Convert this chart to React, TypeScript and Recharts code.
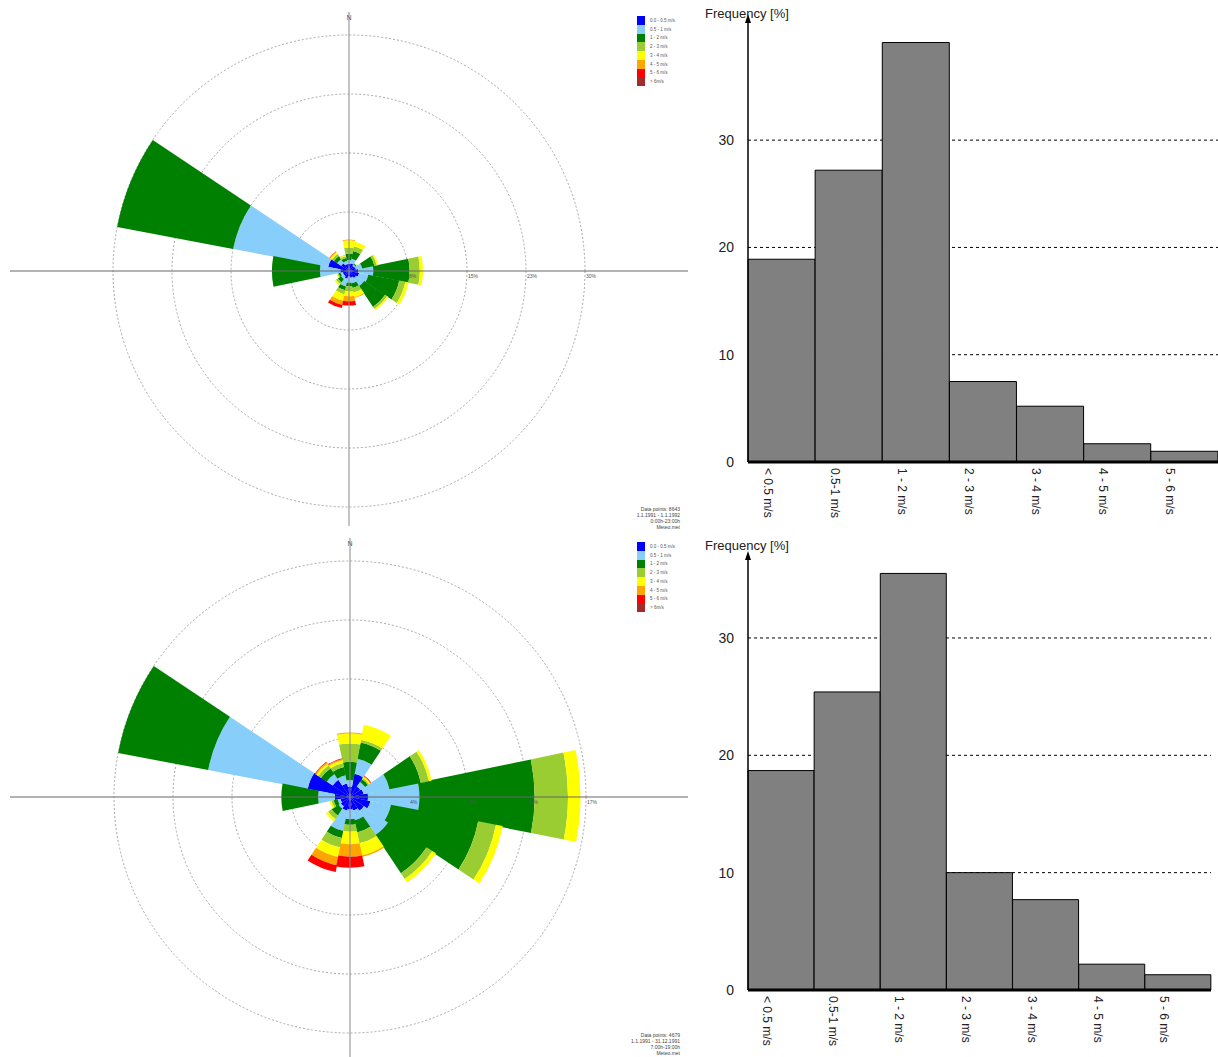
import React from "react";
import {
  Bar,
  BarChart,
  CartesianGrid,
  PolarAngleAxis,
  PolarGrid,
  PolarRadiusAxis,
  RadialBar,
  RadialBarChart,
  XAxis,
  YAxis,
} from "recharts";

const FONT = '"Liberation Sans", Arial, sans-serif';

const directions = ["N", "NNE", "NE", "ENE", "E", "ESE", "SE", "SSE", "S", "SSW", "SW", "WSW", "W", "WNW", "NW", "NNW"];

const speedClasses = ["0.0 - 0.5 m/s", "0.5 - 1 m/s", "1 - 2 m/s", "2 - 3 m/s", "3 - 4 m/s", "4 - 5 m/s", "5 - 6 m/s", "> 6m/s"];
const speedColors = ["#0000ff", "#87cefa", "#008000", "#9acd32", "#ffff00", "#ffa500", "#ff0000", "#a52a2a"];

// whole year, 0-23h : % per direction (N clockwise) for each speed class
const allHours_lt05 = [0.9, 1.0, 0.8, 0.9, 1.2, 1.3, 1.1, 0.9, 0.7, 1.0, 0.8, 0.8, 1.1, 2.7, 1.2, 0.9];
const allHours_05_1 = [0.5, 0.6, 0.2, 0.8, 1.9, 1.2, 1.2, 0.7, 0.8, 1.0, 0.4, 0.3, 2.6, 12.3, 0.6, 0.4];
const allHours_1_2 = [0.8, 1.0, 0.15, 1.6, 4.6, 4.0, 3.2, 0.6, 0.45, 0.5, 0.5, 0.25, 6.1, 15.0, 0.5, 0.4];
const allHours_2_3 = [0.8, 0.6, 0.05, 0.3, 1.3, 0.8, 0.3, 0.6, 0.65, 0.5, 0.3, 0.15, 0, 0, 0.3, 0.2];
const allHours_3_4 = [0.9, 0.6, 0.05, 0.2, 0.4, 0.4, 0.2, 0.6, 0.6, 0.85, 0.2, 0.1, 0, 0, 0.25, 0.15];
const allHours_4_5 = [0.1, 0, 0, 0, 0, 0, 0, 0.1, 0.65, 0.55, 0, 0, 0, 0, 0.1, 0.05];
const allHours_5_6 = [0, 0, 0, 0, 0, 0, 0, 0, 0.55, 0.4, 0, 0, 0, 0, 0.05, 0];
const allHours_gt6 = [0, 0, 0, 0, 0, 0, 0, 0, 0, 0, 0, 0, 0, 0, 0, 0];

// daytime, 7-19h
const dayHours_lt05 = [0.75, 1.7, 0.9, 1.0, 1.3, 1.5, 1.2, 1.0, 0.9, 1.0, 0.8, 0.7, 1.1, 3.1, 1.5, 1.0];
const dayHours_05_1 = [0.47, 1.1, 0.4, 1.9, 3.7, 1.5, 2.1, 0.7, 0.7, 1.5, 0.2, 0.2, 1.2, 7.3, 0.5, 0.6];
const dayHours_1_2 = [1.32, 1.2, 0.25, 2.3, 8.3, 6.4, 3.3, 0.9, 0.4, 0.5, 0.6, 0.3, 2.65, 6.6, 0.5, 0.6];
const dayHours_2_3 = [1.32, 0.2, 0.1, 0.6, 2.4, 1.3, 0.5, 0.8, 0.5, 0.7, 0.3, 0.15, 0, 0, 0.25, 0.3];
const dayHours_3_4 = [0.72, 1.1, 0.1, 0.2, 0.9, 0.5, 0.3, 0.9, 0.9, 0.7, 0.2, 0.15, 0, 0, 0.15, 0.2];
const dayHours_4_5 = [0.07, 0, 0.05, 0, 0, 0, 0, 0.1, 0.9, 0.6, 0, 0, 0, 0, 0.1, 0.1];
const dayHours_5_6 = [0, 0, 0.05, 0, 0, 0, 0, 0, 0.8, 0.5, 0, 0, 0, 0, 0.05, 0.05];
const dayHours_gt6 = [0, 0, 0, 0, 0, 0, 0, 0, 0, 0, 0, 0, 0, 0, 0, 0];

const allHoursRings = [7.5, 15, 22.5, 30];
const allHoursRingLabels = ["8%", "15%", "23%", "30%"];
const dayHoursRings = [4.25, 8.5, 12.75, 17];
const dayHoursRingLabels = ["4%", "8%", "13%", "17%"];

const allHoursInfo = ["Data points: 8643", "1.1.1991 - 1.1.1992", "0:00h-23:00h", "Meteo.met"];
const dayHoursInfo = ["Data points: 4679", "1.1.1991 - 31.12.1991", "7:00h-19:00h", "Meteo.met"];

// histograms
const speedBins = ["< 0.5 m/s", "0.5-1 m/s", "1 - 2 m/s", "2 - 3 m/s", "3 - 4 m/s", "4 - 5 m/s", "5 - 6 m/s"];
const allHoursFreq = [18.9, 27.2, 39.1, 7.5, 5.2, 1.7, 1.0];
const dayHoursFreq = [18.7, 25.4, 35.5, 10.0, 7.7, 2.2, 1.3];
const freqTicks = [0, 10, 20, 30];

type RoseProps = {
  classes: number[][];
  rings: number[];
  ringLabels: string[];
  info: string[];
  top: number;
  height: number;
  cx: number;
  cy: number;
};

function WindRose({ classes, rings, ringLabels, info, top, height, cx, cy }: RoseProps) {
  const data = directions.map((dir, i) => {
    const row: Record<string, string | number> = { dir };
    classes.forEach((vals, k) => {
      row["c" + k] = vals[i];
    });
    return row;
  });
  const max = rings[rings.length - 1];

  return (
    <div style={{ position: "absolute", left: 0, top, width: 690, height }}>
      {/* N sector spans 78.75..101.25 deg, directions run clockwise */}
      <RadialBarChart
        width={690}
        height={height}
        data={data}
        layout="centric"
        cx={cx}
        cy={cy}
        innerRadius={0}
        outerRadius={236}
        startAngle={78.75}
        endAngle={-281.25}
        barCategoryGap={0}
        barGap={0}
        margin={{ top: 0, right: 0, bottom: 0, left: 0 }}
      >
        <PolarGrid gridType="circle" radialLines={false} stroke="#a8a8a8" strokeDasharray="2 2" />
        <PolarAngleAxis type="category" dataKey="dir" tick={false} axisLine={false} tickLine={false} />
        {classes.map((_, k) => (
          <RadialBar
            key={speedClasses[k]}
            dataKey={"c" + k}
            stackId="rose"
            fill={speedColors[k]}
            isAnimationActive={false}
          />
        ))}
        <PolarRadiusAxis
          type="number"
          angle={0}
          domain={[0, max]}
          ticks={rings}
          axisLine={false}
          tickLine={false}
          tick={(p: any) => (
            <text x={p.x + 1} y={p.y + 7} fontSize={5} fill="#555" fontFamily={FONT}>
              {ringLabels[rings.indexOf(p.payload.value)]}
            </text>
          )}
        />
      </RadialBarChart>

      <svg
        width={690}
        height={height}
        style={{ position: "absolute", left: 0, top: 0, pointerEvents: "none", overflow: "visible" }}
      >
        <line x1={10} x2={688} y1={cy} y2={cy} stroke="#666" strokeWidth={1} />
        <line x1={cx} x2={cx} y1={12} y2={height} stroke="#888" strokeWidth={1} />
        <text x={cx} y={20} fontSize={7} fill="#556" textAnchor="middle" fontFamily={FONT}>
          N
        </text>
        {info.map((t, i) => (
          <text key={t} x={680} y={511 + i * 6} fontSize={5} fill="#444" textAnchor="end" fontFamily={FONT}>
            {t}
          </text>
        ))}
      </svg>

      <div style={{ position: "absolute", left: 637, top: 16, fontFamily: FONT }}>
        {speedClasses.map((s, k) => (
          <div key={s} style={{ display: "flex", alignItems: "center", height: 8.75 }}>
            <div style={{ width: 8, height: 8.75, background: speedColors[k] }} />
            <span style={{ fontSize: 4.5, color: "#555", marginLeft: 5, whiteSpace: "nowrap" }}>{s}</span>
          </div>
        ))}
      </div>
    </div>
  );
}

const BinTick = (props: any) => {
  const { x, y, payload } = props;
  return (
    <text
      transform={`translate(${x - 14},${y + 1}) rotate(90)`}
      fontSize={12}
      fill="#222"
      dominantBaseline="central"
      fontFamily={FONT}
    >
      {payload.value}
    </text>
  );
};

type HistProps = {
  values: number[];
  top: number;
  height: number;
  plotTop: number;
  plotBottom: number;
  right: number;
  max: number;
  labelY: number;
};

function Histogram({ values, top, height, plotTop, plotBottom, right, max, labelY }: HistProps) {
  const data = speedBins.map((bin, i) => ({ bin, freq: values[i] }));
  return (
    <div style={{ position: "absolute", left: 690, top, width: 528, height }}>
      <BarChart
        width={528}
        height={height}
        data={data}
        barCategoryGap={0}
        margin={{ top: plotTop, right, bottom: 0, left: 0 }}
      >
        <CartesianGrid vertical={false} syncWithTicks stroke="#000" strokeDasharray="3 3" />
        <XAxis
          dataKey="bin"
          height={height - plotBottom}
          interval={0}
          axisLine={{ stroke: "#000", strokeWidth: 3 }}
          tickLine={false}
          tickSize={0}
          tickMargin={5}
          tick={BinTick}
        />
        <YAxis
          width={58}
          type="number"
          domain={[0, max]}
          ticks={freqTicks}
          allowDataOverflow
          axisLine={{ stroke: "#000", strokeWidth: 1.5 }}
          tickLine={false}
          tickMargin={8}
          tick={{ fill: "#222", fontSize: 14, fontFamily: FONT }}
        />
        <Bar dataKey="freq" fill="#808080" stroke="#000" strokeWidth={1} isAnimationActive={false} />
      </BarChart>
      <svg width={528} height={height} style={{ position: "absolute", left: 0, top: 0, pointerEvents: "none" }}>
        <path d={`M58 ${plotTop - 6} L55 ${plotTop + 3} L61 ${plotTop + 3} Z`} fill="#000" />
        <text x={15} y={labelY} fontSize={13} fill="#222" fontFamily={FONT}>
          Frequency [%]
        </text>
      </svg>
    </div>
  );
}

export default function App() {
  return (
    <div style={{ position: "absolute", left: 0, top: 0, width: 1218, height: 1057, background: "#fff" }}>
      <WindRose
        classes={[allHours_lt05, allHours_05_1, allHours_1_2, allHours_2_3, allHours_3_4, allHours_4_5, allHours_5_6, allHours_gt6]}
        rings={allHoursRings}
        ringLabels={allHoursRingLabels}
        info={allHoursInfo}
        top={0}
        height={526}
        cx={349}
        cy={271}
      />
      <WindRose
        classes={[dayHours_lt05, dayHours_05_1, dayHours_1_2, dayHours_2_3, dayHours_3_4, dayHours_4_5, dayHours_5_6, dayHours_gt6]}
        rings={dayHoursRings}
        ringLabels={dayHoursRingLabels}
        info={dayHoursInfo}
        top={526}
        height={531}
        cx={350}
        cy={271}
      />
      <Histogram values={allHoursFreq} top={0} height={526} plotTop={20} plotBottom={462} right={0} max={41.2} labelY={18} />
      <Histogram values={dayHoursFreq} top={526} height={531} plotTop={31} plotBottom={464} right={7} max={36.9} labelY={24} />
    </div>
  );
}
